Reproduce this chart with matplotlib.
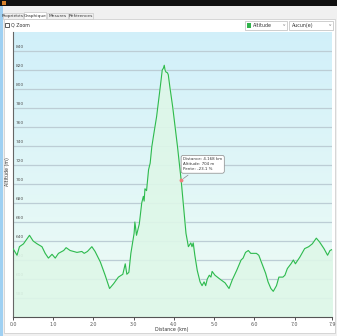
import matplotlib
matplotlib.use("Agg")
import matplotlib.pyplot as plt
import numpy as np
from matplotlib.patches import Rectangle

# Profil altimétrique
distance_km = [0.0, 0.1, 0.16, 0.26, 0.41, 0.5, 0.6, 0.72, 0.8, 0.88, 0.97, 1.05, 1.13,
               1.26, 1.32, 1.42, 1.59, 1.71, 1.77, 1.85, 1.96, 2.04, 2.17, 2.29, 2.4,
               2.5, 2.62, 2.73, 2.79, 2.83, 2.88, 2.93, 3.01, 3.03, 3.07, 3.14, 3.2,
               3.24, 3.26, 3.28, 3.32, 3.37, 3.41, 3.45, 3.49, 3.57, 3.64, 3.68, 3.71,
               3.74, 3.76, 3.78, 3.8, 3.84, 3.86, 3.9, 3.97, 4.03, 4.09, 4.18, 4.24,
               4.3, 4.36, 4.42, 4.45, 4.48, 4.52, 4.58, 4.65, 4.7, 4.75, 4.79, 4.83,
               4.88, 4.92, 4.95, 5.02, 5.14, 5.27, 5.37, 5.45, 5.56, 5.67, 5.72, 5.78,
               5.85, 5.91, 6.05, 6.11, 6.19, 6.28, 6.34, 6.41, 6.47, 6.55, 6.61, 6.71,
               6.76, 6.82, 6.91, 6.97, 7.02, 7.13, 7.25, 7.35, 7.44, 7.54, 7.62, 7.73,
               7.82, 7.88, 7.93]
altitude_m = [632, 625, 634, 637, 646, 640, 637, 634, 627, 622, 626, 622, 627,
              630, 633, 630, 628, 629, 627, 629, 634, 629, 618, 604, 590,
              595, 602, 605, 616, 605, 607, 627, 648, 660, 646, 658, 680,
              687, 682, 695, 693, 715, 722, 739, 750, 771, 795, 809, 820,
              822, 825, 820, 818, 817, 815, 802, 781, 760, 739, 704, 676,
              648, 634, 638, 634, 638, 625, 609, 597, 593, 597, 593, 600,
              604, 602, 608, 604, 600, 596, 590, 599, 609, 620, 622, 628,
              630, 627, 627, 625, 616, 606, 597, 590, 587, 593, 602, 602,
              604, 611, 616, 620, 616, 623, 632, 634, 637, 643, 639, 632,
              625, 630, 631]

y_ticks = [580, 600, 620, 640, 660, 680, 700, 720, 740, 760, 780, 800, 820, 840]
x_ticks = [0, 1, 2, 3, 4, 5, 6, 7, 7.93]
tabs = ["Propriétés", "Graphique", "Mesures", "Références"]

cursor_d, cursor_alt = 4.18, 704
tooltip = "Distance: 4.168 km\nAltitude: 704 m\nPente: -23.1 %"

W, H = 337, 336
fig = plt.figure(figsize=(W / 100, H / 100), dpi=100)
fig.patch.set_facecolor("#f0f0f0")


def fx(px):
    return px / W


def fy(py):
    return 1 - py / H


def box(x0, y0, x1, y1, **kw):
    fig.patches.append(Rectangle((fx(x0), fy(y1)), fx(x1 - x0), (y1 - y0) / H,
                                 transform=fig.transFigure, zorder=-1, **kw))


# habillage de la fenêtre
box(0, 0, W, 6, facecolor="#111111", edgecolor="none")
box(2, 1, 6, 5, facecolor="#d9822b", edgecolor="none")
box(0, 6, 3, H, facecolor="#9fd0f2", edgecolor="none")
box(4, 19, 335, 333, facecolor="white", edgecolor="#d0d0d0", linewidth=0.6)

tab_x = [3, 24, 47, 69]
tab_w = [20, 22, 21, 24]
for i, t in enumerate(tabs):
    sel = (i == 1)
    box(tab_x[i], 12 if sel else 13, tab_x[i] + tab_w[i], 19,
        facecolor="white" if sel else "#f0f0f0", edgecolor="#c8c8c8", linewidth=0.5)
    fig.text(fx(tab_x[i] + tab_w[i] / 2), fy(16), t, fontsize=3.2, ha="center",
             va="center", color="#333333")

box(5, 23, 9, 27, facecolor="white", edgecolor="#444444", linewidth=0.6)
fig.text(fx(11), fy(25), "Q Zoom", fontsize=3.4, va="center", color="#333333")

box(245, 21, 287, 30, facecolor="white", edgecolor="#bbbbbb", linewidth=0.5)
box(247, 23, 251, 28, facecolor="#2fb34a", edgecolor="none")
fig.text(fx(253), fy(25.5), "Altitude", fontsize=3.4, va="center", color="#333333")
fig.text(fx(284), fy(25.5), "v", fontsize=3, va="center", ha="center", color="#777777")
box(289, 21, 333, 30, facecolor="white", edgecolor="#bbbbbb", linewidth=0.5)
fig.text(fx(292), fy(25.5), "Aucun(e)", fontsize=3.4, va="center", color="#333333")
fig.text(fx(330), fy(25.5), "v", fontsize=3, va="center", ha="center", color="#777777")

# zone du graphique
left, right, top, bottom = 13, 332, 32, 317
ax = fig.add_axes([fx(left), fy(bottom), fx(right - left), (bottom - top) / H])
ax.set_zorder(2)
xmin, xmax = 0, 7.93
ymin, ymax = 560, 860
ax.set_xlim(xmin, xmax)
ax.set_ylim(ymin, ymax)

# fond dégradé bleu -> blanc verdâtre
c_top = np.array([0.82, 0.94, 0.98])
c_bot = np.array([0.94, 0.99, 0.96])
t = np.linspace(0, 1, 256)[:, None]
grad = c_top * (1 - t) + c_bot * t
ax.imshow(grad[:, None, :].repeat(2, axis=1), extent=[xmin, xmax, ymin, ymax],
          aspect="auto", origin="upper", zorder=0)

for yv in y_ticks:
    ax.axhline(yv, color="#bccdd5", linewidth=0.9, zorder=1)
    ax.text(0.008, yv + 2, str(yv), transform=ax.get_yaxis_transform(),
            fontsize=3.2, color="#555555", ha="left", va="bottom", zorder=2)

ax.fill_between(distance_km, altitude_m, ymin, color="#def7e8", alpha=0.9, zorder=2)
ax.plot(distance_km, altitude_m, color="#2dba4e", linewidth=0.8, zorder=3)

ax.annotate(tooltip, xy=(cursor_d, cursor_alt), xytext=(2, 9),
            textcoords="offset pixels", fontsize=2.9, color="#333333",
            ha="left", va="bottom", linespacing=1.3, zorder=5,
            bbox=dict(boxstyle="round,pad=0.5", fc="white", ec="#888888", lw=0.5),
            arrowprops=dict(arrowstyle="-", color="#888888", lw=0.5))
ax.plot([cursor_d], [cursor_alt], "o", color="#f08080", markersize=1.8, zorder=6)

ax.set_yticks([])
ax.set_xticks(x_ticks)
ax.set_xticklabels([f"{v:.1f}" for v in x_ticks], fontsize=3.4, color="#555555")
ax.tick_params(axis="x", length=2, width=0.6, pad=1.5, color="#333333")
for s in ["top", "right"]:
    ax.spines[s].set_visible(False)
ax.spines["left"].set_color("#666666")
ax.spines["bottom"].set_color("#555555")
ax.spines["left"].set_linewidth(0.8)
ax.spines["bottom"].set_linewidth(0.8)

fig.text(fx(172), fy(329), "Distance (km)", fontsize=3.4, ha="center", va="center",
         color="#333333")
fig.text(fx(8), fy(172), "Altitude (m)", fontsize=3.4, ha="center", va="center",
         rotation=90, color="#333333")

fig.savefig("out.png", dpi=100)
